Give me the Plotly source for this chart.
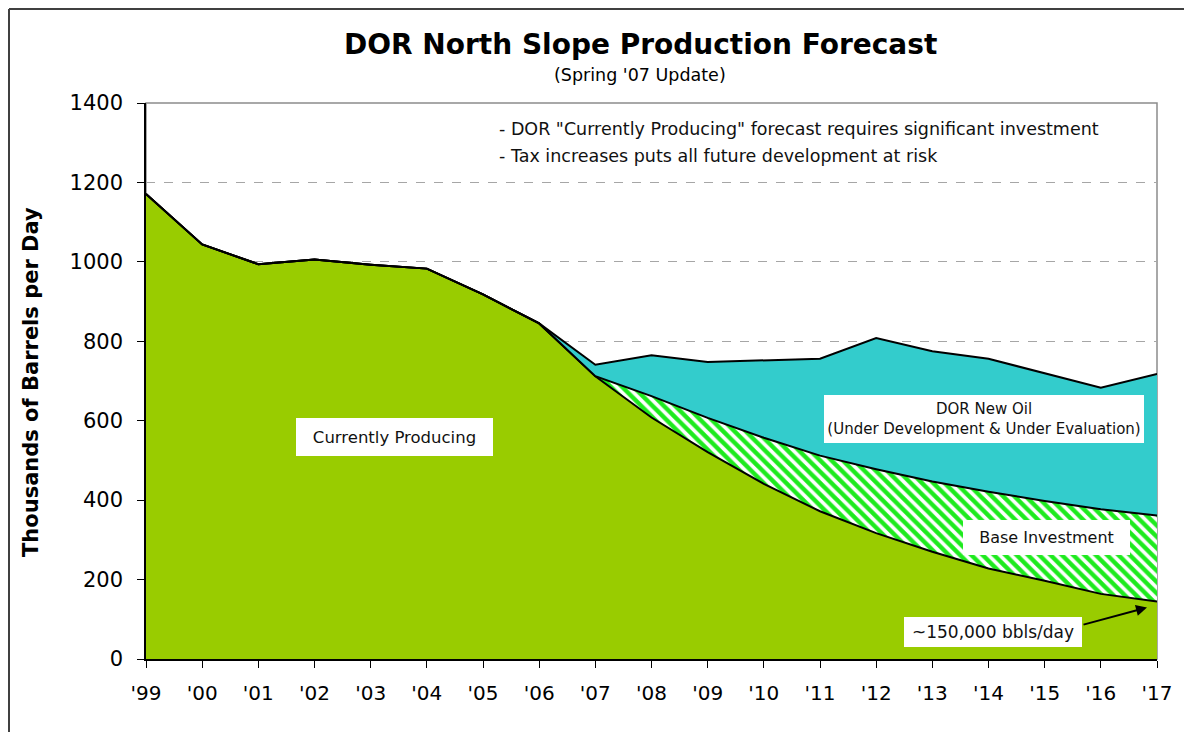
import plotly.graph_objects as go

# ---- data (thousands of barrels per day) ----
years = ["'99", "'00", "'01", "'02", "'03", "'04", "'05", "'06", "'07",
         "'08", "'09", "'10", "'11", "'12", "'13", "'14", "'15", "'16", "'17"]
currently_producing = [1171, 1044, 994, 1006, 993, 983, 918, 845, 712,
                       608, 521, 441, 372, 317, 270, 228, 197, 164, 145]
base_investment = [0, 0, 0, 0, 0, 0, 0, 0, 0,
                   54, 86, 116, 140, 161, 177, 193, 201, 213, 216]
new_oil = [0, 0, 0, 0, 0, 0, 0, 0, 29,
           103, 141, 195, 244, 330, 328, 335, 322, 306, 357]
y_ticks = [0, 200, 400, 600, 800, 1000, 1200, 1400]

FONT = "DejaVu Sans"
OFF = 8  # page body margin
W, H = 1176, 724
PL, PR, PT, PB = 146, 1157, 103, 659  # plot area in screen pixels
L, T = PL - OFF, PT - OFF
R = W + OFF - PR
B = H + OFF - PB


def px(x):
    return (x - PL) / (PR - PL)


def py(y):
    return (PB - y) / (PB - PT)


fig = go.Figure()
fig.add_trace(go.Scatter(
    x=years, y=currently_producing, stackgroup="one", mode="lines",
    name="Currently Producing",
    line=dict(color="black", width=2), fillcolor="#99CC00"))
fig.add_trace(go.Scatter(
    x=years, y=base_investment, stackgroup="one", mode="lines",
    name="Base Investment",
    line=dict(color="black", width=2), fillcolor="white",
    fillpattern=dict(shape="\\", fgcolor="#1EEA1E", bgcolor="white", fgopacity=1,
                     size=8, solidity=0.55)))
fig.add_trace(go.Scatter(
    x=years, y=new_oil, stackgroup="one", mode="lines",
    name="DOR New Oil",
    line=dict(color="black", width=2), fillcolor="#33CCCC"))

ann = []
# title / subtitle
ann.append(dict(text="<b>DOR North Slope Production Forecast</b>", xref="paper", yref="paper",
                x=px(640), y=py(45), xanchor="center", yanchor="middle", showarrow=False,
                font=dict(family=FONT, size=28, color="black")))
ann.append(dict(text="(Spring '07 Update)", xref="paper", yref="paper",
                x=px(640), y=py(75), xanchor="center", yanchor="middle", showarrow=False,
                font=dict(family=FONT, size=17.5, color="black")))
# notes
note_font = dict(family=FONT, size=17.5, color="#111111")
ann.append(dict(text='- DOR "Currently Producing" forecast requires significant investment',
                xref="paper", yref="paper", x=px(497), y=py(129), xanchor="left",
                yanchor="middle", showarrow=False, font=note_font))
ann.append(dict(text="- Tax increases puts all future development at risk",
                xref="paper", yref="paper", x=px(497), y=py(156), xanchor="left",
                yanchor="middle", showarrow=False, font=note_font))
# y-axis title
ann.append(dict(text="<b>Thousands of Barrels per Day</b>", xref="paper", yref="paper",
                x=px(31), y=py(382), xanchor="center", yanchor="middle", showarrow=False,
                textangle=-90, font=dict(family=FONT, size=21, color="black")))


# in-chart label boxes (positioned in pixel space)
def box(text, cx, cy, w, h, size=16):
    return dict(text=text, xref="paper", yref="paper", x=px(cx), y=py(cy),
                xanchor="center", yanchor="middle", showarrow=False,
                bgcolor="white", borderpad=0, borderwidth=0, width=w, height=h,
                font=dict(family=FONT, size=size, color="#111111"))


ann.append(box("Currently Producing", 394.5, 437, 197, 38, 16.5))
ann.append(box("DOR New Oil<br>(Under Development &amp; Under Evaluation)", 983.5, 419, 320, 48, 15))
ann.append(box("Base Investment", 1046, 537, 167, 35, 16))
ann.append(box("~150,000 bbls/day", 993, 632, 178, 30, 17))
# arrow
ann.append(dict(text="", xref="paper", yref="paper", x=px(1147), y=py(607.5),
                axref="pixel", ayref="pixel", ax=-65, ay=17.5,
                showarrow=True, arrowhead=2, arrowsize=1.1, arrowwidth=2, arrowcolor="black"))

frame = dict(color="#404040", width=2)
shapes = [
    # plot border (grey top/right)
    dict(type="rect", xref="paper", yref="paper", x0=0, y0=0, x1=1, y1=1,
         line=dict(color="#8C8C8C", width=1.5), layer="between"),
    # outer chart frame: top and left edges
    dict(type="line", xref="paper", yref="paper", x0=px(9), y0=py(9), x1=px(1192), y1=py(9),
         line=frame, layer="below"),
    dict(type="line", xref="paper", yref="paper", x0=px(9), y0=py(9), x1=px(9), y1=py(740),
         line=frame, layer="below"),
]

fig.update_layout(
    width=W, height=H,
    margin=dict(l=L, r=R, t=T, b=B),
    paper_bgcolor="white", plot_bgcolor="white",
    showlegend=False,
    annotations=ann, shapes=shapes,
    font=dict(family=FONT, color="black"),
)
fig.update_xaxes(type="category", range=[0, len(years) - 1], showgrid=False,
                 showline=True, linecolor="black", linewidth=1.5,
                 ticks="outside", ticklen=7, tickcolor="black", tickwidth=1,
                 tickfont=dict(family=FONT, size=20, color="black"),
                 ticklabelstandoff=8, zeroline=False)
fig.update_yaxes(range=[0, 1400], tickvals=y_ticks, showgrid=True,
                 gridcolor="#A6A6A6", griddash="dash", gridwidth=1,
                 showline=True, linecolor="black", linewidth=1.5,
                 ticks="outside", ticklen=7, tickcolor="black", tickwidth=1,
                 tickfont=dict(family=FONT, size=21, color="black"),
                 ticklabelstandoff=10, zeroline=False)

fig.write_html("out.html")
